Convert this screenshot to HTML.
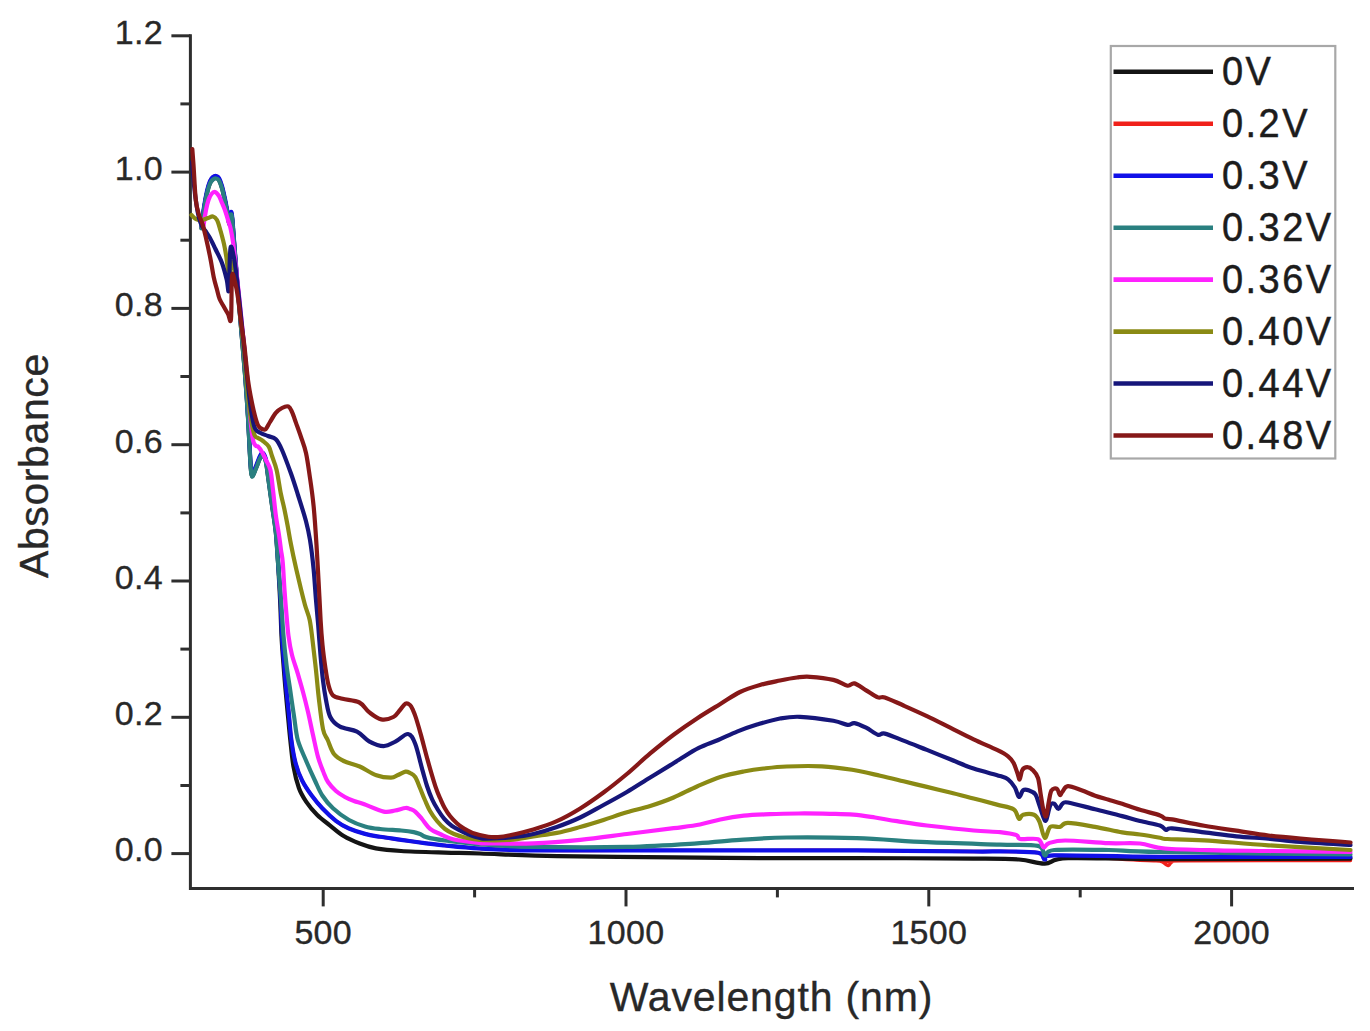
<!DOCTYPE html>
<html><head><meta charset="utf-8"><style>
html,body{margin:0;padding:0;background:#fff;}
body{width:1370px;height:1031px;overflow:hidden;}
svg{display:block;}
text{font-family:"Liberation Sans",sans-serif;fill:#282828;stroke:#282828;stroke-width:0.35px;}
.tk{font-size:34px;letter-spacing:0.3px;}
.ttl{font-size:41px;letter-spacing:0.85px;}
.lg{font-size:40px;letter-spacing:2.6px;fill:#1c1c1c;stroke:#1c1c1c;stroke-width:0.5px;}
</style></head><body>
<svg width="1370" height="1031" viewBox="0 0 1370 1031">
<path d="M190.4 35.8 V888.4 H1352.5" fill="none" stroke="#2e2e2e" stroke-width="3" stroke-linejoin="miter" stroke-linecap="square"/>
<line x1="171.4" y1="853.6" x2="190.4" y2="853.6" stroke="#2e2e2e" stroke-width="3"/>
<line x1="180.4" y1="785.5" x2="190.4" y2="785.5" stroke="#2e2e2e" stroke-width="3"/>
<line x1="171.4" y1="717.3" x2="190.4" y2="717.3" stroke="#2e2e2e" stroke-width="3"/>
<line x1="180.4" y1="649.1" x2="190.4" y2="649.1" stroke="#2e2e2e" stroke-width="3"/>
<line x1="171.4" y1="581.0" x2="190.4" y2="581.0" stroke="#2e2e2e" stroke-width="3"/>
<line x1="180.4" y1="512.9" x2="190.4" y2="512.9" stroke="#2e2e2e" stroke-width="3"/>
<line x1="171.4" y1="444.7" x2="190.4" y2="444.7" stroke="#2e2e2e" stroke-width="3"/>
<line x1="180.4" y1="376.5" x2="190.4" y2="376.5" stroke="#2e2e2e" stroke-width="3"/>
<line x1="171.4" y1="308.4" x2="190.4" y2="308.4" stroke="#2e2e2e" stroke-width="3"/>
<line x1="180.4" y1="240.2" x2="190.4" y2="240.2" stroke="#2e2e2e" stroke-width="3"/>
<line x1="171.4" y1="172.1" x2="190.4" y2="172.1" stroke="#2e2e2e" stroke-width="3"/>
<line x1="180.4" y1="103.9" x2="190.4" y2="103.9" stroke="#2e2e2e" stroke-width="3"/>
<line x1="171.4" y1="35.8" x2="190.4" y2="35.8" stroke="#2e2e2e" stroke-width="3"/>
<line x1="323.2" y1="888.4" x2="323.2" y2="906.4" stroke="#2e2e2e" stroke-width="3"/>
<line x1="474.6" y1="888.4" x2="474.6" y2="897.4" stroke="#2e2e2e" stroke-width="3"/>
<line x1="626.0" y1="888.4" x2="626.0" y2="906.4" stroke="#2e2e2e" stroke-width="3"/>
<line x1="777.4" y1="888.4" x2="777.4" y2="897.4" stroke="#2e2e2e" stroke-width="3"/>
<line x1="928.8" y1="888.4" x2="928.8" y2="906.4" stroke="#2e2e2e" stroke-width="3"/>
<line x1="1080.2" y1="888.4" x2="1080.2" y2="897.4" stroke="#2e2e2e" stroke-width="3"/>
<line x1="1231.6" y1="888.4" x2="1231.6" y2="906.4" stroke="#2e2e2e" stroke-width="3"/>
<text x="163" y="861.4" text-anchor="end" class="tk">0.0</text>
<text x="163" y="725.1" text-anchor="end" class="tk">0.2</text>
<text x="163" y="588.8" text-anchor="end" class="tk">0.4</text>
<text x="163" y="452.5" text-anchor="end" class="tk">0.6</text>
<text x="163" y="316.2" text-anchor="end" class="tk">0.8</text>
<text x="163" y="179.9" text-anchor="end" class="tk">1.0</text>
<text x="163" y="43.6" text-anchor="end" class="tk">1.2</text>
<text x="323.2" y="944" text-anchor="middle" class="tk">500</text>
<text x="626.0" y="944" text-anchor="middle" class="tk">1000</text>
<text x="928.8" y="944" text-anchor="middle" class="tk">1500</text>
<text x="1231.6" y="944" text-anchor="middle" class="tk">2000</text>
<text x="609.8" y="1011" class="ttl">Wavelength (nm)</text>
<text transform="translate(48,578) rotate(-90)" x="0" y="0" class="ttl" style="letter-spacing:0.6px">Absorbance</text>
<path d="M201.5 226.0 C201.9 222.8 203.1 212.8 204.0 207.0 C204.9 201.2 206.0 195.3 207.0 191.0 C208.0 186.7 209.0 183.3 210.0 181.0 C211.0 178.7 212.0 177.8 213.0 177.0 C214.0 176.2 215.0 175.8 216.0 176.0 C217.0 176.2 218.0 176.3 219.0 178.0 C220.0 179.7 221.0 182.5 222.0 186.0 C223.0 189.5 224.1 194.7 225.0 199.0 C225.9 203.3 226.8 208.2 227.5 212.0 C228.2 215.8 228.9 222.0 229.5 222.0 C230.1 222.0 230.5 212.7 231.0 212.0 C231.5 211.3 231.8 213.3 232.3 218.0 C232.8 222.7 233.2 230.0 234.0 240.0 C234.8 250.0 235.8 263.8 237.0 278.0 C238.2 292.2 239.7 309.3 241.0 325.0 C242.3 340.7 243.8 357.0 245.0 372.0 C246.2 387.0 247.1 400.0 248.0 415.0 C248.9 430.0 249.8 452.2 250.5 462.0 C251.2 471.8 251.1 473.3 252.0 474.0 C252.9 474.7 254.7 469.0 256.0 466.0 C257.3 463.0 258.8 458.2 260.0 456.0 C261.2 453.8 262.0 452.3 263.0 453.0 C264.0 453.7 265.2 456.5 266.0 460.0 C266.8 463.5 267.0 466.8 268.0 474.0 C269.0 481.2 270.7 493.7 272.0 503.0 C273.3 512.3 274.8 520.5 275.8 530.0 C276.8 539.5 277.2 548.3 278.0 560.0 C278.8 571.7 279.9 587.3 280.6 600.0 C281.3 612.7 281.4 625.7 282.0 636.0 C282.6 646.3 283.3 653.7 284.0 662.0 C284.7 670.3 285.2 677.5 286.0 686.0 C286.8 694.5 287.9 704.0 288.8 713.0 C289.7 722.0 290.2 731.6 291.4 740.0 C292.5 748.4 293.9 756.8 295.7 763.5 C297.5 770.2 299.4 775.2 302.1 780.5 C304.8 785.8 308.3 790.9 311.7 795.5 C315.1 800.1 318.2 804.0 322.3 808.3 C326.4 812.6 331.8 817.7 336.2 821.1 C340.6 824.5 344.2 826.4 349.0 828.5 C353.8 830.6 359.8 832.5 365.0 833.9 C370.2 835.3 374.0 835.8 380.0 836.8 C386.0 837.8 393.4 838.7 401.1 839.8 C408.8 840.9 419.0 842.4 426.3 843.4 C433.6 844.4 436.1 844.6 445.0 845.5 C453.9 846.4 465.3 847.7 480.0 848.5 C494.7 849.3 508.9 850.1 533.4 850.4 C557.9 850.7 589.1 850.4 626.9 850.4 C664.7 850.4 721.7 850.4 760.0 850.4 C798.3 850.4 821.2 850.2 856.8 850.4 C892.4 850.6 949.7 851.3 973.6 851.5 C997.5 851.7 989.3 851.2 1000.0 851.4 C1010.7 851.6 1030.5 851.4 1038.0 852.7 C1045.5 854.1 1042.1 859.0 1044.8 859.5 C1047.5 860.0 1038.4 855.3 1054.3 855.4 C1070.2 855.5 1122.4 859.4 1140.0 860.3 C1157.6 861.2 1155.7 860.3 1160.0 861.0 C1164.3 861.7 1164.6 863.8 1166.0 864.5 C1167.4 865.2 1167.5 865.9 1168.5 865.5 C1169.5 865.1 1170.1 862.8 1172.0 862.0 C1173.9 861.2 1150.2 861.0 1180.0 860.8 C1209.8 860.6 1322.1 860.6 1350.5 860.6" fill="none" stroke="#f0201a" stroke-width="3.4" stroke-linejoin="round" stroke-linecap="round"/>
<path d="M201.5 228.0 C201.9 224.8 203.1 214.8 204.0 209.0 C204.9 203.2 206.0 197.3 207.0 193.0 C208.0 188.7 209.0 185.3 210.0 183.0 C211.0 180.7 212.0 179.8 213.0 179.0 C214.0 178.2 215.0 177.8 216.0 178.0 C217.0 178.2 218.0 178.3 219.0 180.0 C220.0 181.7 221.0 184.5 222.0 188.0 C223.0 191.5 224.1 196.7 225.0 201.0 C225.9 205.3 226.8 210.2 227.5 214.0 C228.2 217.8 228.9 224.0 229.5 224.0 C230.1 224.0 230.5 214.7 231.0 214.0 C231.5 213.3 231.8 215.3 232.3 220.0 C232.8 224.7 233.2 232.0 234.0 242.0 C234.8 252.0 235.8 265.8 237.0 280.0 C238.2 294.2 239.7 311.3 241.0 327.0 C242.3 342.7 243.8 359.0 245.0 374.0 C246.2 389.0 247.1 402.0 248.0 417.0 C248.9 432.0 249.8 454.2 250.5 464.0 C251.2 473.8 251.1 475.3 252.0 476.0 C252.9 476.7 254.7 471.0 256.0 468.0 C257.3 465.0 258.8 460.2 260.0 458.0 C261.2 455.8 262.0 454.3 263.0 455.0 C264.0 455.7 265.2 458.5 266.0 462.0 C266.8 465.5 267.0 468.8 268.0 476.0 C269.0 483.2 270.7 495.7 272.0 505.0 C273.3 514.3 274.8 522.5 275.8 532.0 C276.8 541.5 277.3 550.7 278.0 562.0 C278.7 573.3 279.5 587.7 280.1 600.0 C280.7 612.3 281.0 625.7 281.5 636.0 C282.0 646.3 282.7 653.7 283.3 662.0 C283.9 670.3 284.5 677.7 285.2 686.0 C285.9 694.3 286.8 703.0 287.6 712.0 C288.5 721.0 289.3 730.9 290.3 740.0 C291.3 749.1 292.1 758.7 293.5 766.7 C294.9 774.7 296.8 782.1 298.9 788.0 C301.0 793.9 303.3 797.4 306.3 801.9 C309.3 806.4 313.1 810.8 317.0 814.7 C320.9 818.6 325.4 821.8 329.8 825.3 C334.2 828.8 338.7 833.0 343.7 836.0 C348.7 839.0 354.3 841.4 359.7 843.5 C365.1 845.6 369.0 847.1 375.9 848.4 C382.8 849.6 389.6 850.3 401.1 851.0 C412.6 851.7 431.9 852.2 445.0 852.6 C458.1 853.0 461.3 852.9 480.0 853.5 C498.7 854.1 524.7 855.6 557.0 856.2 C589.3 856.9 640.2 857.1 674.0 857.4 C707.8 857.7 729.5 858.0 760.0 858.1 C790.5 858.2 821.3 858.0 857.0 858.1 C892.7 858.2 947.0 858.4 974.0 858.6 C1001.0 858.8 1007.2 858.7 1019.0 859.5 C1030.8 860.3 1036.6 863.8 1044.8 863.6 C1053.0 863.4 1048.8 858.9 1068.0 858.2 C1087.2 857.5 1112.9 859.1 1160.0 859.2 C1207.1 859.3 1318.8 858.7 1350.5 858.6" fill="none" stroke="#141414" stroke-width="4.2" stroke-linejoin="round" stroke-linecap="round"/>
<path d="M201.5 226.0 C201.9 222.8 203.1 212.8 204.0 207.0 C204.9 201.2 206.0 195.3 207.0 191.0 C208.0 186.7 209.0 183.3 210.0 181.0 C211.0 178.7 212.0 177.8 213.0 177.0 C214.0 176.2 215.0 175.8 216.0 176.0 C217.0 176.2 218.0 176.3 219.0 178.0 C220.0 179.7 221.0 182.5 222.0 186.0 C223.0 189.5 224.1 194.7 225.0 199.0 C225.9 203.3 226.8 208.2 227.5 212.0 C228.2 215.8 228.9 222.0 229.5 222.0 C230.1 222.0 230.5 212.7 231.0 212.0 C231.5 211.3 231.8 213.3 232.3 218.0 C232.8 222.7 233.2 230.0 234.0 240.0 C234.8 250.0 235.8 263.8 237.0 278.0 C238.2 292.2 239.7 309.3 241.0 325.0 C242.3 340.7 243.8 357.0 245.0 372.0 C246.2 387.0 247.1 400.0 248.0 415.0 C248.9 430.0 249.8 452.2 250.5 462.0 C251.2 471.8 251.1 473.3 252.0 474.0 C252.9 474.7 254.7 469.0 256.0 466.0 C257.3 463.0 258.8 458.2 260.0 456.0 C261.2 453.8 262.0 452.3 263.0 453.0 C264.0 453.7 265.2 456.5 266.0 460.0 C266.8 463.5 267.0 466.8 268.0 474.0 C269.0 481.2 270.7 493.7 272.0 503.0 C273.3 512.3 274.8 520.5 275.8 530.0 C276.8 539.5 277.2 548.3 278.0 560.0 C278.8 571.7 279.9 587.3 280.6 600.0 C281.3 612.7 281.4 625.7 282.0 636.0 C282.6 646.3 283.3 653.7 284.0 662.0 C284.7 670.3 285.2 677.5 286.0 686.0 C286.8 694.5 287.9 704.0 288.8 713.0 C289.7 722.0 290.2 731.6 291.4 740.0 C292.5 748.4 293.9 756.8 295.7 763.5 C297.5 770.2 299.4 775.2 302.1 780.5 C304.8 785.8 308.3 790.9 311.7 795.5 C315.1 800.1 318.2 804.0 322.3 808.3 C326.4 812.6 331.8 817.7 336.2 821.1 C340.6 824.5 344.2 826.4 349.0 828.5 C353.8 830.6 359.8 832.5 365.0 833.9 C370.2 835.3 374.0 835.8 380.0 836.8 C386.0 837.8 393.4 838.7 401.1 839.8 C408.8 840.9 419.0 842.4 426.3 843.4 C433.6 844.4 436.1 844.6 445.0 845.5 C453.9 846.4 465.3 847.7 480.0 848.5 C494.7 849.3 508.9 850.1 533.4 850.4 C557.9 850.7 589.1 850.4 626.9 850.4 C664.7 850.4 721.7 850.4 760.0 850.4 C798.3 850.4 821.2 850.2 856.8 850.4 C892.4 850.6 949.7 851.3 973.6 851.5 C997.5 851.7 989.3 851.2 1000.0 851.4 C1010.7 851.6 1030.5 851.4 1038.0 852.7 C1045.5 854.1 1042.1 859.0 1044.8 859.5 C1047.5 860.0 1035.1 855.9 1054.3 855.4 C1073.5 854.9 1110.6 856.5 1160.0 856.8 C1209.4 857.1 1318.8 857.0 1350.5 857.0" fill="none" stroke="#1010e8" stroke-width="4.2" stroke-linejoin="round" stroke-linecap="round"/>
<path d="M201.5 228.5 C201.9 225.3 203.1 215.3 204.0 209.5 C204.9 203.7 206.0 197.8 207.0 193.5 C208.0 189.2 209.0 185.8 210.0 183.5 C211.0 181.2 212.0 180.3 213.0 179.5 C214.0 178.7 215.0 178.3 216.0 178.5 C217.0 178.7 218.0 178.8 219.0 180.5 C220.0 182.2 221.0 185.0 222.0 188.5 C223.0 192.0 224.1 197.2 225.0 201.5 C225.9 205.8 226.8 210.7 227.5 214.5 C228.2 218.3 228.9 224.5 229.5 224.5 C230.1 224.5 230.5 215.2 231.0 214.5 C231.5 213.8 231.8 215.8 232.3 220.5 C232.8 225.2 233.2 232.5 234.0 242.5 C234.8 252.5 235.8 266.3 237.0 280.5 C238.2 294.7 239.7 311.8 241.0 327.5 C242.3 343.2 243.8 359.5 245.0 374.5 C246.2 389.5 247.1 402.5 248.0 417.5 C248.9 432.5 249.8 454.7 250.5 464.5 C251.2 474.3 251.1 475.8 252.0 476.5 C252.9 477.2 254.7 471.5 256.0 468.5 C257.3 465.5 258.8 460.7 260.0 458.5 C261.2 456.3 262.0 454.8 263.0 455.5 C264.0 456.2 265.2 459.0 266.0 462.5 C266.8 466.0 267.0 469.3 268.0 476.5 C269.0 483.7 270.7 496.2 272.0 505.5 C273.3 514.8 274.8 523.0 275.8 532.5 C276.8 542.0 277.1 551.2 278.0 562.5 C278.9 573.8 280.1 587.8 281.0 600.0 C281.9 612.2 282.6 625.2 283.5 636.0 C284.4 646.8 285.4 656.0 286.5 665.0 C287.6 674.0 288.9 681.5 290.2 690.0 C291.4 698.5 292.7 707.7 294.0 716.0 C295.3 724.3 295.8 732.5 297.8 740.0 C299.9 747.5 303.5 754.5 306.3 761.3 C309.1 768.0 312.2 774.8 314.9 780.5 C317.6 786.2 319.3 790.9 322.3 795.5 C325.3 800.1 328.6 804.2 333.0 808.3 C337.4 812.4 343.7 817.0 349.0 820.0 C354.3 823.0 359.8 824.9 365.0 826.4 C370.2 827.9 374.0 828.3 380.0 829.0 C386.0 829.7 395.5 830.0 401.1 830.5 C406.7 831.0 410.6 831.5 413.7 832.1 C416.8 832.7 417.9 833.2 420.0 834.0 C422.1 834.8 422.1 836.0 426.3 837.1 C430.5 838.2 436.1 839.3 445.0 840.5 C453.9 841.7 465.3 843.2 480.0 844.3 C494.7 845.4 508.9 846.5 533.4 846.9 C557.9 847.3 599.6 847.5 626.9 846.9 C654.2 846.3 678.1 844.6 697.0 843.4 C715.9 842.2 725.0 840.9 740.0 839.9 C755.0 838.9 767.2 837.8 786.7 837.5 C806.2 837.2 833.4 837.4 856.8 838.2 C880.2 839.0 903.0 841.1 926.9 842.2 C950.8 843.3 981.5 844.0 1000.0 844.6 C1018.5 845.2 1030.5 844.1 1038.0 845.9 C1045.5 847.7 1042.1 854.7 1044.8 855.4 C1047.5 856.1 1043.6 850.9 1054.3 850.0 C1065.0 849.1 1091.1 849.7 1108.7 850.0 C1126.3 850.3 1119.7 851.2 1160.0 852.0 C1200.3 852.8 1318.8 854.1 1350.5 854.5" fill="none" stroke="#2a8080" stroke-width="4.2" stroke-linejoin="round" stroke-linecap="round"/>
<path d="M203.5 226.0 C203.9 223.3 205.2 214.3 206.0 210.0 C206.8 205.7 207.6 202.7 208.5 200.0 C209.4 197.3 210.4 195.3 211.5 194.0 C212.6 192.7 213.8 191.7 215.0 192.0 C216.2 192.3 217.8 194.2 219.0 196.0 C220.2 197.8 221.0 200.7 222.0 203.0 C223.0 205.3 223.9 207.2 224.9 210.0 C225.9 212.8 227.0 216.8 228.0 220.0 C229.0 223.2 229.9 225.3 230.7 229.0 C231.5 232.7 232.1 235.5 233.0 242.0 C233.9 248.5 234.8 257.5 236.0 268.0 C237.2 278.5 238.7 292.2 240.0 305.0 C241.3 317.8 242.8 331.7 244.0 345.0 C245.2 358.3 246.4 372.5 247.5 385.0 C248.6 397.5 249.6 410.8 250.5 420.0 C251.4 429.2 252.2 435.7 253.0 440.0 C253.8 444.3 254.8 444.5 255.6 445.6 C256.4 446.7 256.9 445.5 258.0 446.6 C259.1 447.7 260.7 449.8 262.0 452.0 C263.3 454.2 264.6 457.0 266.0 460.0 C267.4 463.0 269.2 465.0 270.4 470.0 C271.6 475.0 272.1 482.5 273.0 490.0 C273.9 497.5 274.8 507.5 275.8 515.0 C276.8 522.5 278.1 529.2 279.0 535.0 C279.9 540.8 280.4 545.5 281.0 550.0 C281.6 554.5 282.1 555.3 282.7 562.0 C283.3 568.7 283.9 581.2 284.5 590.0 C285.1 598.8 285.8 607.3 286.5 615.0 C287.2 622.7 287.6 629.3 288.5 636.0 C289.4 642.7 290.4 648.7 292.0 655.0 C293.6 661.3 296.0 667.4 297.8 673.6 C299.6 679.8 301.3 685.7 303.0 692.0 C304.7 698.3 306.2 704.3 307.9 711.5 C309.6 718.7 311.3 727.4 313.0 735.0 C314.7 742.6 316.3 750.9 318.0 756.9 C319.7 762.9 321.3 766.8 323.0 771.0 C324.7 775.2 325.8 778.7 328.0 782.0 C330.2 785.3 333.2 788.5 336.0 791.0 C338.8 793.5 341.9 795.3 344.9 797.0 C347.9 798.7 350.8 799.8 354.0 801.0 C357.2 802.2 359.4 802.5 364.3 804.3 C369.2 806.1 378.6 810.6 383.7 811.6 C388.8 812.6 391.4 811.1 395.0 810.5 C398.6 809.9 403.0 808.2 405.5 808.0 C408.0 807.8 408.4 808.4 410.0 809.0 C411.6 809.6 413.2 809.9 415.2 811.6 C417.2 813.3 419.6 816.2 422.0 819.0 C424.4 821.8 426.8 826.1 429.8 828.6 C432.8 831.1 436.0 832.2 440.0 834.0 C444.0 835.8 447.3 838.0 454.0 839.5 C460.7 841.0 474.6 842.5 480.0 843.1 C485.4 843.8 477.8 843.4 486.7 843.4 C495.6 843.4 517.8 844.0 533.4 843.4 C549.0 842.8 564.6 841.5 580.2 839.9 C595.8 838.3 611.3 836.0 626.9 834.0 C642.5 832.0 661.4 829.8 673.6 828.2 C685.8 826.6 692.2 826.0 700.0 824.5 C707.8 823.0 713.0 821.0 720.3 819.5 C727.6 818.0 735.5 816.6 743.8 815.7 C752.1 814.8 760.9 814.6 770.0 814.2 C779.1 813.8 788.5 813.6 798.5 813.5 C808.5 813.4 820.9 813.6 830.0 813.8 C839.1 814.0 845.8 814.0 853.3 814.6 C860.8 815.2 867.7 816.4 875.0 817.5 C882.3 818.6 888.4 819.9 897.0 821.2 C905.6 822.5 914.1 824.0 926.9 825.5 C939.7 827.0 961.4 829.4 973.6 830.5 C985.8 831.6 992.9 831.4 1000.0 832.2 C1007.1 833.0 1012.9 834.0 1016.3 835.1 C1019.7 836.2 1016.7 838.3 1020.3 839.0 C1023.9 839.7 1034.1 837.8 1038.0 839.2 C1041.9 840.6 1041.7 846.6 1043.5 847.3 C1045.3 848.0 1045.3 844.3 1048.9 843.2 C1052.5 842.1 1055.2 840.5 1065.2 840.5 C1075.2 840.5 1096.2 842.7 1108.7 843.2 C1121.2 843.7 1130.6 842.6 1140.0 843.5 C1149.4 844.4 1152.0 847.4 1165.0 848.5 C1178.0 849.6 1200.8 849.9 1218.0 850.3 C1235.2 850.7 1246.4 850.7 1268.5 851.0 C1290.6 851.3 1336.8 851.8 1350.5 852.0" fill="none" stroke="#ff22ff" stroke-width="4.2" stroke-linejoin="round" stroke-linecap="round"/>
<path d="M191.5 215.0 C192.2 215.7 194.2 218.2 196.0 219.0 C197.8 219.8 200.0 220.2 202.0 220.0 C204.0 219.8 206.2 218.6 208.0 218.0 C209.8 217.4 211.5 216.2 213.0 216.5 C214.5 216.8 215.8 217.9 217.0 220.0 C218.2 222.1 219.1 226.0 220.0 229.0 C220.9 232.0 221.7 234.8 222.5 238.0 C223.3 241.2 224.2 244.5 224.9 248.5 C225.7 252.5 226.4 257.1 227.0 262.0 C227.6 266.9 228.2 274.3 228.7 277.6 C229.2 280.9 229.5 284.6 229.8 282.0 C230.1 279.4 229.9 264.3 230.6 262.0 C231.3 259.7 232.9 264.0 234.0 268.0 C235.1 272.0 235.8 277.2 237.0 286.0 C238.2 294.8 239.7 308.3 241.0 321.0 C242.3 333.7 243.7 348.0 245.0 362.0 C246.3 376.0 247.8 394.5 249.0 405.0 C250.2 415.5 251.0 419.9 252.0 425.0 C253.0 430.1 253.8 433.5 254.8 435.7 C255.8 437.9 256.6 437.1 258.0 438.0 C259.4 438.9 261.2 439.6 263.0 441.0 C264.8 442.4 267.3 444.1 268.8 446.6 C270.3 449.1 270.7 452.1 272.0 456.0 C273.3 459.9 275.1 463.6 276.6 469.9 C278.1 476.1 279.5 487.0 280.8 493.5 C282.1 500.0 283.2 503.4 284.3 508.7 C285.4 514.0 286.4 519.1 287.5 525.0 C288.6 530.9 289.5 536.8 290.9 544.0 C292.3 551.2 294.3 560.5 296.0 568.0 C297.7 575.5 299.5 583.1 301.0 589.3 C302.5 595.5 303.6 599.9 305.0 605.0 C306.4 610.1 308.4 614.2 309.7 620.0 C310.9 625.8 311.5 631.9 312.5 640.0 C313.5 648.1 314.7 658.5 315.8 668.5 C316.9 678.5 317.8 689.9 319.0 700.0 C320.2 710.1 321.6 722.4 323.0 729.1 C324.4 735.8 325.9 735.9 327.7 740.0 C329.5 744.1 331.3 750.5 334.0 754.0 C336.7 757.5 339.4 758.9 343.7 761.0 C348.0 763.1 354.2 764.1 359.7 766.5 C365.1 768.9 371.2 773.4 376.4 775.2 C381.6 777.1 387.4 777.6 391.0 777.6 C394.6 777.6 395.6 776.0 398.0 775.0 C400.4 774.0 403.5 771.9 405.5 771.6 C407.5 771.3 408.4 772.1 410.0 773.0 C411.6 773.9 413.5 774.5 415.2 777.0 C416.9 779.5 418.4 784.2 420.0 788.0 C421.6 791.8 423.2 796.2 424.9 800.0 C426.6 803.8 428.0 807.5 430.0 811.0 C432.0 814.5 434.5 818.0 437.0 821.0 C439.5 824.0 442.2 826.8 445.0 829.0 C447.8 831.2 450.7 832.6 454.0 834.0 C457.3 835.4 460.7 836.5 465.0 837.5 C469.3 838.5 472.5 839.6 480.0 840.0 C487.5 840.4 501.1 840.5 510.0 839.9 C518.9 839.3 525.6 837.6 533.4 836.4 C541.2 835.2 549.0 834.5 556.8 832.9 C564.6 831.3 572.4 829.1 580.2 827.0 C588.0 824.9 595.7 822.5 603.5 820.0 C611.3 817.5 619.1 814.6 626.9 812.3 C634.7 810.0 642.4 808.5 650.2 806.0 C658.0 803.5 665.8 800.8 673.6 797.5 C681.4 794.2 689.2 789.9 697.0 786.5 C704.8 783.1 712.5 779.5 720.3 777.0 C728.1 774.5 736.5 772.9 743.7 771.5 C750.9 770.1 756.2 769.3 763.4 768.5 C770.6 767.7 777.0 766.9 786.7 766.5 C796.4 766.1 810.9 765.8 821.8 766.3 C832.7 766.8 842.4 768.2 852.1 769.8 C861.8 771.4 871.6 773.8 880.2 775.7 C888.8 777.6 895.7 779.4 903.5 781.3 C911.3 783.2 919.1 785.0 926.9 786.9 C934.7 788.8 942.4 790.6 950.2 792.5 C958.0 794.4 965.8 796.5 973.6 798.5 C981.4 800.5 990.3 802.8 997.0 804.6 C1003.7 806.4 1009.9 806.9 1013.6 809.3 C1017.3 811.7 1017.4 817.9 1019.0 818.8 C1020.6 819.7 1020.6 815.4 1023.1 814.7 C1025.6 814.0 1031.3 813.6 1034.0 814.7 C1036.7 815.8 1037.6 817.6 1039.4 821.5 C1041.2 825.4 1043.0 836.9 1044.8 837.8 C1046.6 838.7 1047.8 828.7 1050.3 826.9 C1052.8 825.1 1056.9 827.6 1059.8 826.9 C1062.7 826.2 1062.0 822.9 1067.9 822.9 C1073.8 822.9 1086.0 825.3 1095.1 826.9 C1104.1 828.5 1114.7 831.1 1122.2 832.4 C1129.7 833.7 1133.7 833.6 1140.0 834.5 C1146.3 835.4 1155.5 837.0 1160.0 837.8 C1164.5 838.5 1159.9 838.6 1167.3 839.0 C1174.7 839.4 1187.3 839.2 1204.2 840.3 C1221.1 841.3 1244.1 843.7 1268.5 845.3 C1292.9 846.9 1336.8 849.2 1350.5 850.0" fill="none" stroke="#8a8a14" stroke-width="4.2" stroke-linejoin="round" stroke-linecap="round"/>
<path d="M192.2 162.0 C192.5 165.8 193.3 177.8 194.0 185.0 C194.7 192.2 195.7 199.5 196.5 205.0 C197.3 210.5 198.1 214.5 199.0 218.0 C199.9 221.5 200.9 223.8 202.0 226.0 C203.1 228.2 204.2 229.0 205.5 231.0 C206.8 233.0 208.4 235.1 210.0 238.0 C211.6 240.9 213.2 244.3 215.2 248.5 C217.2 252.7 220.1 257.8 222.0 263.0 C223.9 268.2 225.7 275.5 226.8 280.0 C227.9 284.5 228.2 295.3 228.8 290.0 C229.4 284.7 229.6 253.3 230.5 248.0 C231.4 242.7 232.9 252.7 234.0 258.0 C235.1 263.3 236.0 271.8 237.0 280.0 C238.0 288.2 238.8 296.0 240.0 307.0 C241.2 318.0 242.7 333.0 244.0 346.0 C245.3 359.0 246.8 374.3 248.0 385.0 C249.2 395.7 249.9 402.8 251.0 410.0 C252.1 417.2 253.2 424.2 254.8 428.0 C256.4 431.8 258.4 431.7 260.6 433.0 C262.8 434.3 265.5 434.9 268.0 436.0 C270.5 437.1 273.5 437.0 275.8 439.3 C278.1 441.6 279.5 444.3 282.0 450.0 C284.5 455.7 288.2 465.8 290.9 473.3 C293.6 480.8 295.5 487.0 298.0 495.0 C300.5 503.0 304.0 513.7 306.0 521.2 C308.0 528.7 308.7 532.0 310.0 540.0 C311.3 548.0 312.6 559.0 313.6 569.0 C314.6 579.0 315.2 590.7 316.0 600.0 C316.8 609.3 317.4 615.8 318.2 625.0 C318.9 634.2 319.7 645.7 320.5 655.0 C321.3 664.3 322.1 673.1 323.0 680.6 C323.9 688.1 324.8 693.9 326.0 700.0 C327.2 706.1 328.0 712.5 330.3 717.0 C332.6 721.5 335.6 724.3 340.0 726.7 C344.4 729.1 352.1 729.2 357.0 731.6 C361.9 734.0 364.7 738.9 369.1 741.3 C373.6 743.7 379.2 746.1 383.7 746.1 C388.1 746.1 391.8 743.3 395.8 741.3 C399.9 739.3 404.8 733.6 408.0 734.0 C411.2 734.4 412.8 737.6 415.2 743.7 C417.6 749.8 420.5 763.4 422.5 770.4 C424.5 777.4 425.4 781.1 427.0 786.0 C428.6 790.9 430.4 795.5 432.2 799.5 C434.0 803.5 436.0 806.8 438.0 810.0 C440.0 813.2 442.0 816.2 444.3 818.9 C446.6 821.6 449.2 824.0 452.0 826.0 C454.8 828.0 458.3 829.5 461.3 831.0 C464.3 832.5 466.9 833.8 470.0 835.0 C473.1 836.2 477.2 837.4 480.0 838.0 C482.8 838.6 481.7 838.8 486.7 838.7 C491.7 838.6 502.2 838.3 510.0 837.5 C517.8 836.7 525.6 835.8 533.4 834.0 C541.2 832.2 549.0 829.8 556.8 827.0 C564.6 824.2 572.4 821.2 580.2 817.5 C588.0 813.8 595.7 809.2 603.5 805.0 C611.3 800.8 619.1 796.6 626.9 792.0 C634.7 787.4 643.0 781.9 650.2 777.5 C657.4 773.1 665.1 768.4 670.0 765.4 C674.9 762.4 674.6 762.4 679.4 759.5 C684.2 756.6 692.3 751.1 698.8 747.9 C705.3 744.6 711.7 742.8 718.2 740.0 C724.7 737.2 731.1 734.0 737.6 731.4 C744.1 728.8 749.9 726.8 757.0 724.6 C764.1 722.5 772.8 719.8 780.0 718.5 C787.2 717.2 791.1 716.4 800.0 716.8 C808.9 717.2 825.5 719.4 833.4 720.7 C841.3 722.1 844.0 724.5 847.5 724.9 C851.0 725.3 851.4 722.6 854.5 723.1 C857.6 723.6 862.2 725.8 866.1 727.7 C870.0 729.6 874.7 733.7 877.8 734.7 C880.9 735.7 880.5 732.6 884.8 733.6 C889.1 734.6 896.5 737.9 903.5 740.6 C910.5 743.3 919.1 746.8 926.9 749.9 C934.7 753.0 942.4 756.2 950.2 759.3 C958.0 762.4 965.3 765.8 973.6 768.6 C981.9 771.4 994.2 774.2 1000.0 776.0 C1005.8 777.8 1005.6 777.5 1008.1 779.4 C1010.6 781.3 1013.1 784.6 1014.9 787.5 C1016.7 790.4 1017.6 796.5 1019.0 797.0 C1020.4 797.5 1021.5 791.4 1023.1 790.3 C1024.7 789.2 1026.5 789.6 1028.5 790.3 C1030.5 791.0 1033.5 791.8 1035.3 794.3 C1037.1 796.8 1038.0 801.4 1039.4 805.2 C1040.8 809.1 1042.4 814.9 1043.5 817.4 C1044.6 819.9 1045.1 822.1 1046.2 820.1 C1047.3 818.1 1049.0 807.9 1050.3 805.2 C1051.6 802.5 1052.9 803.2 1054.3 803.8 C1055.7 804.4 1057.0 809.0 1058.4 809.0 C1059.8 809.0 1060.9 804.9 1062.5 803.8 C1064.1 802.7 1062.5 801.6 1067.9 802.5 C1073.3 803.4 1086.0 807.0 1095.1 809.3 C1104.1 811.6 1114.7 814.1 1122.2 816.1 C1129.7 818.1 1133.7 819.4 1140.0 821.0 C1146.3 822.6 1155.7 824.1 1160.0 825.6 C1164.3 827.1 1164.0 829.5 1166.0 829.9 C1168.0 830.3 1165.7 827.9 1172.1 828.3 C1178.5 828.7 1193.5 831.0 1204.2 832.3 C1214.9 833.6 1225.7 835.2 1236.4 836.3 C1247.1 837.4 1257.8 837.8 1268.5 838.7 C1279.2 839.7 1286.9 841.0 1300.6 842.0 C1314.3 843.0 1342.2 844.5 1350.5 845.0" fill="none" stroke="#16167a" stroke-width="4.2" stroke-linejoin="round" stroke-linecap="round"/>
<path d="M192.3 149.0 C192.5 151.7 192.9 156.5 193.5 165.0 C194.1 173.5 194.9 191.7 195.8 200.0 C196.7 208.3 197.9 211.0 199.0 215.0 C200.1 219.0 201.3 220.2 202.5 224.0 C203.7 227.8 204.7 232.3 206.0 238.0 C207.3 243.7 209.0 251.5 210.3 258.0 C211.6 264.5 212.6 271.7 213.7 277.0 C214.8 282.3 216.1 286.3 217.1 290.0 C218.1 293.7 218.4 296.2 219.6 299.0 C220.8 301.8 222.6 304.5 224.0 307.0 C225.4 309.5 226.8 312.0 228.0 314.0 C229.2 316.0 230.3 325.3 231.0 319.0 C231.7 312.7 231.3 282.2 232.0 276.0 C232.7 269.8 234.0 278.3 235.0 282.0 C236.0 285.7 237.0 291.3 238.0 298.0 C239.0 304.7 239.9 314.2 241.0 322.0 C242.1 329.8 243.1 335.3 244.3 345.0 C245.5 354.7 246.7 370.3 248.0 380.0 C249.3 389.7 250.8 397.0 252.0 403.0 C253.2 409.0 254.0 412.3 255.0 416.0 C256.0 419.7 256.9 423.2 258.1 425.4 C259.3 427.6 260.7 428.4 262.0 429.0 C263.3 429.6 264.4 430.4 265.7 429.2 C267.0 428.0 268.3 424.7 270.0 422.0 C271.7 419.3 273.8 415.1 275.8 412.8 C277.8 410.5 279.9 409.1 282.0 408.0 C284.1 406.9 286.7 405.8 288.4 406.5 C290.1 407.2 290.7 409.3 292.0 412.0 C293.3 414.7 294.5 418.7 296.0 422.9 C297.5 427.1 299.3 432.0 301.0 437.0 C302.7 442.0 304.5 446.2 306.0 453.0 C307.5 459.8 308.7 469.2 310.0 478.0 C311.3 486.8 312.5 494.8 313.6 506.0 C314.7 517.2 315.7 532.4 316.5 545.0 C317.3 557.6 317.9 569.3 318.6 581.8 C319.3 594.3 320.0 609.5 320.6 620.0 C321.2 630.5 321.7 636.9 322.5 645.0 C323.3 653.1 324.5 661.8 325.5 668.5 C326.5 675.2 327.3 680.5 328.5 685.0 C329.7 689.5 330.5 692.9 332.8 695.2 C335.1 697.5 338.1 697.6 342.5 698.8 C346.9 700.0 355.0 700.3 359.4 702.5 C363.8 704.7 365.5 709.4 369.1 712.2 C372.8 715.0 377.2 718.6 381.3 719.4 C385.4 720.2 390.3 718.6 393.4 717.0 C396.5 715.4 398.0 712.2 400.0 710.0 C402.0 707.8 403.8 704.5 405.5 703.7 C407.2 702.9 408.8 704.0 410.0 705.0 C411.2 706.0 411.8 707.5 412.8 709.7 C413.8 711.9 414.6 713.5 416.0 718.0 C417.4 722.5 419.5 729.6 421.4 736.6 C423.3 743.6 425.3 751.6 427.6 759.9 C429.9 768.2 433.3 779.9 435.4 786.3 C437.5 792.6 438.4 794.4 440.0 798.0 C441.6 801.6 443.0 805.0 444.7 808.0 C446.4 811.0 447.9 813.4 450.0 816.0 C452.1 818.6 454.8 821.4 457.1 823.5 C459.4 825.6 461.4 826.9 464.0 828.5 C466.6 830.1 468.6 831.5 472.6 832.9 C476.6 834.3 484.0 836.0 488.2 836.7 C492.4 837.4 494.4 837.2 498.0 837.0 C501.6 836.8 504.1 836.5 510.0 835.2 C515.9 833.9 525.6 831.7 533.4 829.4 C541.2 827.1 549.0 824.7 556.8 821.2 C564.6 817.7 572.4 813.3 580.2 808.5 C588.0 803.7 595.7 798.2 603.5 792.5 C611.3 786.8 619.1 780.5 626.9 774.0 C634.7 767.5 642.4 759.9 650.2 753.4 C658.0 746.9 665.8 740.5 673.6 734.7 C681.4 728.9 689.2 723.5 697.0 718.4 C704.8 713.3 713.1 708.4 720.3 704.0 C727.5 699.6 733.4 695.2 740.0 692.0 C746.6 688.8 753.3 686.9 760.0 685.0 C766.7 683.1 773.8 681.8 780.0 680.5 C786.2 679.2 792.0 678.1 797.0 677.5 C802.0 676.9 803.9 676.4 810.0 676.8 C816.1 677.2 827.1 678.4 833.4 679.9 C839.6 681.4 844.0 685.1 847.5 685.7 C851.0 686.3 851.4 682.6 854.5 683.4 C857.6 684.2 862.2 688.1 866.1 690.4 C870.0 692.7 874.7 696.2 877.8 697.4 C880.9 698.6 880.5 696.0 884.8 697.4 C889.1 698.8 896.5 702.4 903.5 705.5 C910.5 708.6 919.1 712.4 926.9 716.1 C934.7 719.8 942.4 723.8 950.2 727.7 C958.0 731.6 965.8 735.7 973.6 739.4 C981.4 743.1 991.2 747.1 997.0 749.9 C1002.8 752.7 1005.3 754.1 1008.1 756.3 C1010.9 758.5 1012.0 760.1 1013.6 763.1 C1015.2 766.1 1016.7 771.3 1017.7 774.0 C1018.7 776.7 1018.9 780.1 1019.7 779.4 C1020.5 778.7 1021.1 771.9 1022.4 769.9 C1023.6 767.9 1025.5 767.2 1027.2 767.2 C1028.9 767.2 1030.8 768.1 1032.6 769.9 C1034.4 771.7 1036.7 773.9 1038.0 778.0 C1039.3 782.1 1039.8 788.9 1040.7 794.3 C1041.6 799.7 1042.6 807.0 1043.5 810.6 C1044.4 814.2 1045.3 817.7 1046.2 816.1 C1047.1 814.5 1048.0 805.4 1048.9 801.1 C1049.8 796.8 1050.2 792.3 1051.6 790.3 C1052.9 788.3 1055.6 788.1 1057.0 788.9 C1058.4 789.7 1058.9 794.5 1059.8 795.0 C1060.7 795.5 1061.2 793.1 1062.5 791.6 C1063.8 790.1 1064.7 786.4 1067.9 786.2 C1071.1 786.0 1077.0 788.7 1081.5 790.3 C1086.0 791.9 1090.6 794.1 1095.1 795.7 C1099.6 797.3 1104.2 798.4 1108.7 799.8 C1113.2 801.1 1117.0 802.1 1122.2 803.8 C1127.4 805.5 1133.7 807.9 1140.0 809.8 C1146.3 811.7 1155.8 813.9 1160.0 815.4 C1164.2 816.9 1163.0 817.9 1165.0 818.6 C1167.0 819.3 1165.6 818.2 1172.1 819.4 C1178.6 820.6 1193.5 823.9 1204.2 825.8 C1214.9 827.7 1225.7 829.1 1236.4 830.7 C1247.1 832.3 1257.8 834.2 1268.5 835.5 C1279.2 836.8 1289.9 837.7 1300.6 838.6 C1311.3 839.5 1324.4 840.4 1332.7 841.0 C1341.0 841.6 1347.5 842.2 1350.5 842.5" fill="none" stroke="#861818" stroke-width="4.2" stroke-linejoin="round" stroke-linecap="round"/>
<rect x="1110.8" y="46" width="224.5" height="412.5" fill="none" stroke="#a8a8a8" stroke-width="2.2"/>
<line x1="1113.5" y1="71.8" x2="1213" y2="71.8" stroke="#141414" stroke-width="4.6"/>
<text transform="translate(1222,84.8) scale(0.95,1)" class="lg">0V</text>
<line x1="1113.5" y1="123.8" x2="1213" y2="123.8" stroke="#f0201a" stroke-width="4.6"/>
<text transform="translate(1222,136.8) scale(0.95,1)" class="lg">0.2V</text>
<line x1="1113.5" y1="175.7" x2="1213" y2="175.7" stroke="#1010e8" stroke-width="4.6"/>
<text transform="translate(1222,188.7) scale(0.95,1)" class="lg">0.3V</text>
<line x1="1113.5" y1="227.7" x2="1213" y2="227.7" stroke="#2a8080" stroke-width="4.6"/>
<text transform="translate(1222,240.7) scale(0.95,1)" class="lg">0.32V</text>
<line x1="1113.5" y1="279.6" x2="1213" y2="279.6" stroke="#ff22ff" stroke-width="4.6"/>
<text transform="translate(1222,292.6) scale(0.95,1)" class="lg">0.36V</text>
<line x1="1113.5" y1="331.6" x2="1213" y2="331.6" stroke="#8a8a14" stroke-width="4.6"/>
<text transform="translate(1222,344.6) scale(0.95,1)" class="lg">0.40V</text>
<line x1="1113.5" y1="383.5" x2="1213" y2="383.5" stroke="#16167a" stroke-width="4.6"/>
<text transform="translate(1222,396.5) scale(0.95,1)" class="lg">0.44V</text>
<line x1="1113.5" y1="435.5" x2="1213" y2="435.5" stroke="#861818" stroke-width="4.6"/>
<text transform="translate(1222,448.5) scale(0.95,1)" class="lg">0.48V</text>
</svg>
</body></html>
